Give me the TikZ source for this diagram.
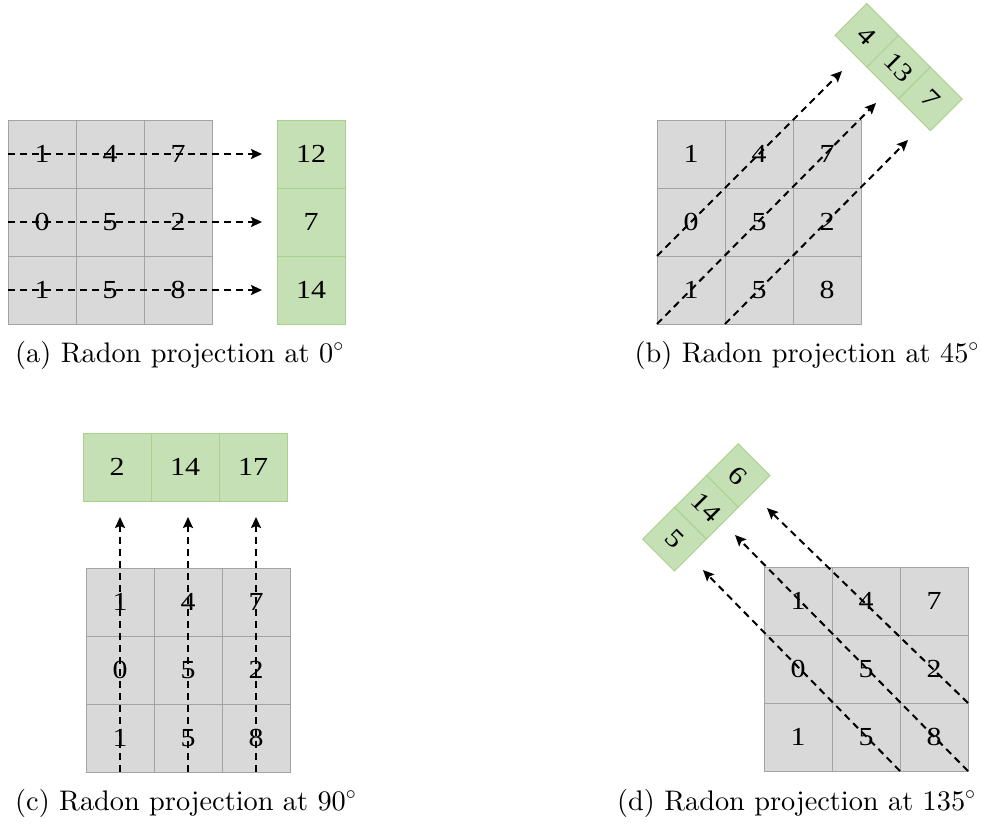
\RequirePackage{fix-cm}
\documentclass[tikz,border=0pt]{standalone}
\usepackage{fontspec}
\newfontfamily\numfont{Liberation Serif}[FakeStretch=1.15]
\newfontfamily\capfont{lmroman10-regular}[Extension=.otf]
\usetikzlibrary{arrows.meta}
\definecolor{cellgray}{HTML}{D9D9D9}
\definecolor{cellline}{HTML}{A3A3A3}
\definecolor{binfill}{HTML}{C5E0B4}
\definecolor{binline}{HTML}{A9D18E}

% 3x3 image grid: #1 name prefix, (#2,#3) top-left corner
\newcommand\imagegrid[3]{%
  \foreach \row/\vals in {1/{1,4,7},2/{0,5,2},3/{1,5,8}} {
    \foreach \v [count=\col] in \vals {
      \node[gcell] (#1-\row-\col) at ({#2+68*\col-34},{#3+68*\row-34}) {\v};
    }
  }%
}

\begin{document}
\begin{tikzpicture}[x=1pt,y=-1pt,
  gcell/.style={draw=cellline, fill=cellgray, line width=0.9pt, minimum size=68pt,
    inner sep=0pt, outer sep=0pt, font=\numfont\fontsize{26}{30}\selectfont},
  bin/.style={gcell, draw=binline, fill=binfill},
  dbin/.style={bin, minimum size=45pt, rotate=-45},
  proj/.style={black, line width=2pt, dash pattern=on 7pt off 5pt,
    -{Stealth[length=11pt,width=10pt,inset=2pt]}},
  caption/.style={font=\capfont\fontsize{28.3}{34}\selectfont, inner sep=0pt}]
\useasboundingbox (0,0) rectangle (982,823);

% ---------- (a) 0 degrees ----------
\imagegrid{A}{8}{120}
\node[bin] (PA-1) at (311,154) {12};
\node[bin] (PA-2) at (311,222) {7};
\node[bin] (PA-3) at (311,290) {14};
\foreach \r in {1,2,3}
  \draw[proj] (A-\r-1.west) -- ([xshift=-15pt]PA-\r.west);

% ---------- (b) 45 degrees ----------
\imagegrid{B}{657}{120}
\node[dbin] (PB-1) at (866.8,35.3) {4};
\node[dbin] (PB-2) at (898.6,67.1) {13};
\node[dbin] (PB-3) at (930.4,98.9) {7};
\coordinate (TB-1) at (842,71);
\coordinate (TB-2) at (876,103);
\coordinate (TB-3) at (908,140);
\draw[proj] (B-2-1.south west) -- (TB-1);
\draw[proj] (B-3-1.south west) -- (TB-2);
\draw[proj] (B-3-2.south west) -- (TB-3);

% ---------- (c) 90 degrees ----------
\imagegrid{C}{86}{568}
\node[bin] (PC-1) at (117,467) {2};
\node[bin] (PC-2) at (185,467) {14};
\node[bin] (PC-3) at (253,467) {17};
\coordinate (TC) at (0,517);
\foreach \c in {1,2,3}
  \draw[proj] (C-3-\c.south) -- (C-3-\c.south |- TC);

% ---------- (d) 135 degrees ----------
\imagegrid{D}{764}{567}
\node[dbin] (PD-1) at (738.2,475.5) {6};
\node[dbin] (PD-2) at (706.4,507.3) {14};
\node[dbin] (PD-3) at (674.5,539.1) {5};
\coordinate (TD-1) at (767,508);
\coordinate (TD-2) at (735,535);
\coordinate (TD-3) at (703,570);
\draw[proj] (D-2-3.south east) -- (TD-1);
\draw[proj] (D-3-3.south east) -- (TD-2);
\draw[proj] (D-3-2.south east) -- (TD-3);

% ---------- captions ----------
\node[caption, anchor=base west] (capA) at (15,362) {(a) Radon projection at 0$^\circ$};
\node[caption, anchor=base east] (capB) at (979,362) {(b) Radon projection at 45$^\circ$};
\node[caption, anchor=base west] (capC) at (15,810) {(c) Radon projection at 90$^\circ$};
\node[caption, anchor=base west] (capD) at (617,810) {(d) Radon projection at 135$^\circ$};
\end{tikzpicture}
\end{document}
